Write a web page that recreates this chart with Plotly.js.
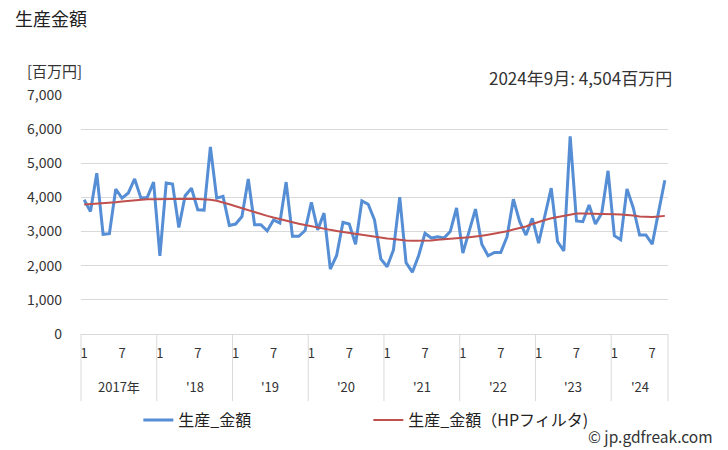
<!DOCTYPE html>
<html>
<head>
<meta charset="utf-8">
<script src="https://cdn.plot.ly/plotly-3.0.1.min.js"></script>
<style>
html,body{margin:0;padding:0;background:#fff;}
#chart{width:728px;height:450px;}
</style>
</head>
<body>
<div id="chart"></div>
<script>
// Monthly data: Jan 2017 .. Sep 2024 (millions of yen)
const startYear = 2017;
const production = [
  3930, 3590, 4710, 2920, 2940, 4240, 3980, 4130, 4540, 3980, 4000, 4450,
  2290, 4420, 4390, 3120, 4050, 4270, 3640, 3630, 5480, 3980, 4030, 3180,
  3220, 3440, 4540, 3200, 3200, 3020, 3340, 3250, 4450, 2860, 2860, 3030,
  3860, 3050, 3540, 1900, 2300, 3270, 3220, 2630, 3900, 3800, 3340, 2200,
  1970, 2460, 4010, 2090, 1810, 2300, 2950, 2810, 2850, 2810, 3000, 3690,
  2370, 3000, 3660, 2630, 2290, 2390, 2390, 2850, 3950, 3290, 2900, 3390,
  2660, 3470, 4270, 2710, 2430, 5790, 3310, 3290, 3780, 3220, 3540, 4780,
  2880, 2760, 4250, 3690, 2900, 2900, 2630, 3570, 4504
];
const hpFilter = [
  3790, 3800, 3815, 3830, 3845, 3860, 3880, 3900, 3920, 3935, 3945, 3950,
  3955, 3960, 3960, 3960, 3960, 3960, 3955, 3945, 3930, 3900, 3860, 3800,
  3740, 3680, 3620, 3570, 3510, 3460, 3410, 3360, 3310, 3270, 3230, 3190,
  3150, 3120, 3080, 3050, 3020, 2990, 2970, 2940, 2920, 2890, 2860, 2830,
  2800, 2780, 2750, 2740, 2730, 2730, 2730, 2740, 2760, 2780, 2800, 2810,
  2820, 2835, 2850, 2880, 2910, 2940, 2970, 3010, 3060, 3100, 3150, 3220,
  3290, 3340, 3390, 3430, 3470, 3500, 3530, 3530, 3530, 3530, 3530, 3520,
  3510, 3500, 3490, 3470, 3440, 3430, 3430, 3440, 3460
];
const monthTickLabels = ["1", "7"];
const yearLabels = ["2017年", "'18", "'19", "'20", "'21", "'22", "'23", "'24"];
const seriesNames = ["生産_金額", "生産_金額（HPフィルタ)"];
const chartTitle = "生産金額";
const unitLabel = "[百万円]";
const latestLabel = "2024年9月: 4,504百万円";
const credit = "© jp.gdfreak.com";

const n = production.length;
const xs = production.map((_, i) => i);

// ticks at months 1 and 7
const tickvals = [], ticktext = [];
for (let i = 0; i < n; i++) {
  const m = i % 12;
  if (m === 0) { tickvals.push(i); ticktext.push(monthTickLabels[0]); }
  if (m === 6) { tickvals.push(i); ticktext.push(monthTickLabels[1]); }
}

const FONT = "'Noto Sans CJK JP', 'Noto Sans', sans-serif";
const plotL = 80.6, plotR = 668, plotT = 95.3, plotB = 334;
const plotW = plotR - plotL, plotH = plotB - plotT;
const px2paperX = x => (x - plotL) / plotW;
const px2paperY = y => (plotB - y) / plotH;

const shapes = [];
const annotations = [];
const nYears = yearLabels.length;
for (let k = 0; k <= nYears; k++) {
  const startIdx = Math.min(k * 12, n);
  shapes.push({
    type: 'line', xref: 'paper', yref: 'paper',
    x0: startIdx / n, x1: startIdx / n,
    y0: 0, y1: px2paperY(401),
    line: {color: '#d9d9d9', width: 1}
  });
}
for (let k = 0; k < nYears; k++) {
  const s = k * 12 - 0.5, e = Math.min((k + 1) * 12, n) - 0.5;
  annotations.push({
    text: yearLabels[k], xref: 'x', yref: 'paper',
    x: (s + e) / 2, y: px2paperY(386), xanchor: 'center', yanchor: 'middle',
    showarrow: false, font: {family: FONT, size: 13, color: '#333'}
  });
}
annotations.push({
  text: unitLabel, xref: 'paper', yref: 'paper',
  x: px2paperX(25), y: px2paperY(71), xanchor: 'left', yanchor: 'middle',
  showarrow: false, font: {family: FONT, size: 15, color: '#333'}
});
annotations.push({
  text: latestLabel, xref: 'paper', yref: 'paper',
  x: px2paperX(674), y: px2paperY(78), xanchor: 'right', yanchor: 'middle',
  showarrow: false, font: {family: FONT, size: 17, color: '#333'}
});
annotations.push({
  text: credit, xref: 'paper', yref: 'paper',
  x: px2paperX(715), y: px2paperY(436), xanchor: 'right', yanchor: 'middle',
  showarrow: false, font: {family: FONT, size: 15.5, color: '#333'}
});

const traces = [
  {x: xs, y: production, type: 'scatter', mode: 'lines', name: seriesNames[0],
   line: {color: '#558ed5', width: 3}},
  {x: xs, y: hpFilter, type: 'scatter', mode: 'lines', name: seriesNames[1],
   line: {color: '#c0504d', width: 2}}
];

const layout = {
  width: 728, height: 450,
  margin: {l: plotL, r: 728 - plotR, t: plotT, b: 450 - plotB, pad: 0},
  paper_bgcolor: '#fff', plot_bgcolor: '#fff',
  font: {family: FONT, color: '#333'},
  title: {text: chartTitle, x: 15 / 728, xref: 'container', xanchor: 'left',
          y: 1 - 20 / 450, yref: 'container', yanchor: 'middle',
          font: {family: FONT, size: 18, color: '#222'}},
  xaxis: {range: [-0.5, n - 0.5], tickmode: 'array', tickvals: tickvals, ticktext: ticktext,
          showgrid: false, zeroline: false, showline: true, linecolor: '#d9d9d9', linewidth: 1,
          ticks: 'outside', ticklen: 7, tickcolor: 'rgba(0,0,0,0)',
          tickfont: {family: FONT, size: 13, color: '#333'}, fixedrange: true},
  yaxis: {range: [0, 7000], dtick: 1000, tickformat: ',d', showgrid: true, gridcolor: '#d9d9d9',
          zeroline: false, showline: false, ticks: '', ticklabelstandoff: 18,
          tickfont: {family: FONT, size: 14, color: '#333'}, fixedrange: true},
  showlegend: true,
  legend: {orientation: 'h', x: px2paperX(138), xanchor: 'left', y: px2paperY(420), yanchor: 'middle',
           font: {family: FONT, size: 16, color: '#222'}, entrywidth: 185, entrywidthmode: 'pixels',
           bgcolor: 'rgba(0,0,0,0)'},
  shapes: shapes,
  annotations: annotations
};

Plotly.newPlot('chart', traces, layout, {displayModeBar: false, staticPlot: true});
</script>
</body>
</html>
